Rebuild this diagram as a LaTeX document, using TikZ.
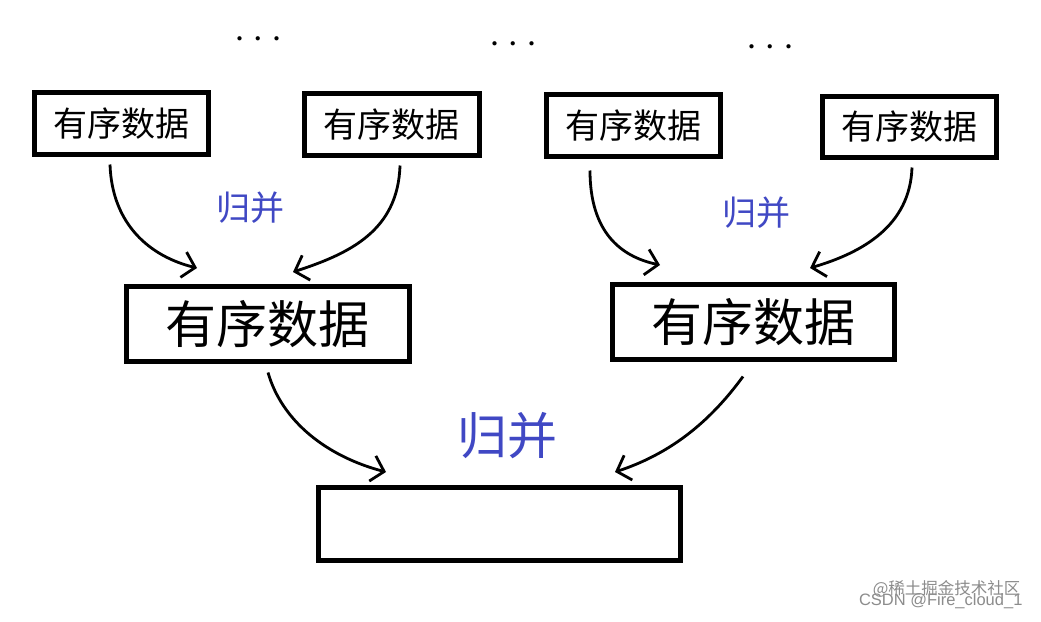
\documentclass[tikz,border=0pt]{standalone}
\usepackage{fontspec}
\newfontfamily\cjk{Noto Sans CJK SC}
\newfontfamily\wmsans{Liberation Sans}
\setmainfont{Liberation Serif}
\usetikzlibrary{arrows.meta,calc}
\definecolor{mergeblue}{RGB}{64,72,196}
\tikzset{
  box/.style={draw=black,line width=4.5pt,inner sep=0pt,anchor=north west},
  small/.style={font=\cjk\fontsize{34}{34}\selectfont},
  big/.style={font=\cjk\fontsize{51}{51}\selectfont},
  mlabel/.style={text=mergeblue,font=\cjk\fontsize{34}{34}\selectfont},
  mlabelbig/.style={text=mergeblue,font=\cjk\fontsize{50}{50}\selectfont},
  dots/.style={font=\fontsize{26}{26}\selectfont\bfseries},
  arr/.style={line width=2.8pt,-{Straight Barb[length=12pt,width=26pt,line width=2.8pt]}},
  wm/.style={text=black!45,font=\fontsize{16.5}{16.5}\selectfont}
}
\begin{document}
\begin{tikzpicture}[x=1pt,y=-1pt]
\useasboundingbox (0,0) rectangle (1041,621);
\fill[white] (0,0) rectangle (1041,621);
% top boxes
\node[box,minimum width=174pt,minimum height=62pt] (t1) at (32,90) {};
\node[small] at (t1.center) {有序数据};
\node[box,minimum width=175pt,minimum height=62pt] (t2) at (302,91) {};
\node[small] at (t2.center) {有序数据};
\node[box,minimum width=174pt,minimum height=62pt] (t3) at (544,92) {};
\node[small] at (t3.center) {有序数据};
\node[box,minimum width=174pt,minimum height=61pt] (t4) at (820,94) {};
\node[small] at (t4.center) {有序数据};
% middle boxes
\node[box,minimum width=283pt,minimum height=75pt] (m1) at (124,284) {};
\node[big] at (m1.center) {有序数据};
\node[box,minimum width=282pt,minimum height=75pt] (m2) at (610,282) {};
\node[big] at (m2.center) {有序数据};
% bottom box
\node[box,minimum width=362pt,minimum height=73pt] (b) at (316,485) {};
% dots
\node[dots] (d1) at (258,39) {.\kern12pt.\kern12pt.};
\node[dots] (d2) at (513,44) {.\kern12pt.\kern12pt.};
\node[dots] (d3) at (770,47) {.\kern12pt.\kern12pt.};
% labels
\node[mlabel] (l1) at (250,208) {归并};
\node[mlabel] (l2) at (756,213) {归并};
\node[mlabelbig] (l3) at (507,436) {归并};
% arrows
\draw[arr] ($(t1.south west)+(78,8)$) .. controls ($(t1.south west)+(80,68)$) and ($(t1.south west)+(118,100)$) .. ($(m1.north west)+(73,-16)$);
\draw[arr] ($(t2.south west)+(98,8)$) .. controls ($(t2.south west)+(96,73)$) and ($(t2.south west)+(48,96)$) .. ($(m1.north west)+(169,-12)$);
\draw[arr] ($(t3.south west)+(46,12)$) .. controls ($(t3.south west)+(46,73)$) and ($(t3.south west)+(76,98)$) .. ($(m2.north west)+(50,-17)$);
\draw[arr] ($(t4.south west)+(92,8)$) .. controls ($(t4.south west)+(90,66)$) and ($(t4.south west)+(43,93)$) .. ($(m2.north west)+(200,-14)$);
\draw[arr] ($(m1.south west)+(144,9)$) .. controls ($(m1.south west)+(158,58)$) and ($(m1.south west)+(203,93)$) .. ($(b.north west)+(70,-13)$);
\draw[arr] ($(m2.south west)+(133,15)$) .. controls ($(m2.south west)+(98,63)$) and ($(m2.south west)+(58,93)$) .. ($(b.north west)+(299,-13)$);
% watermark
\node[wm,anchor=east] (w1) at (1024,589) {\cjk @稀土掘金技术社区};
\node[wm,anchor=east] (w2) at (1026,601) {\wmsans CSDN @Fire\_cloud\_1};
\end{tikzpicture}
\end{document}
